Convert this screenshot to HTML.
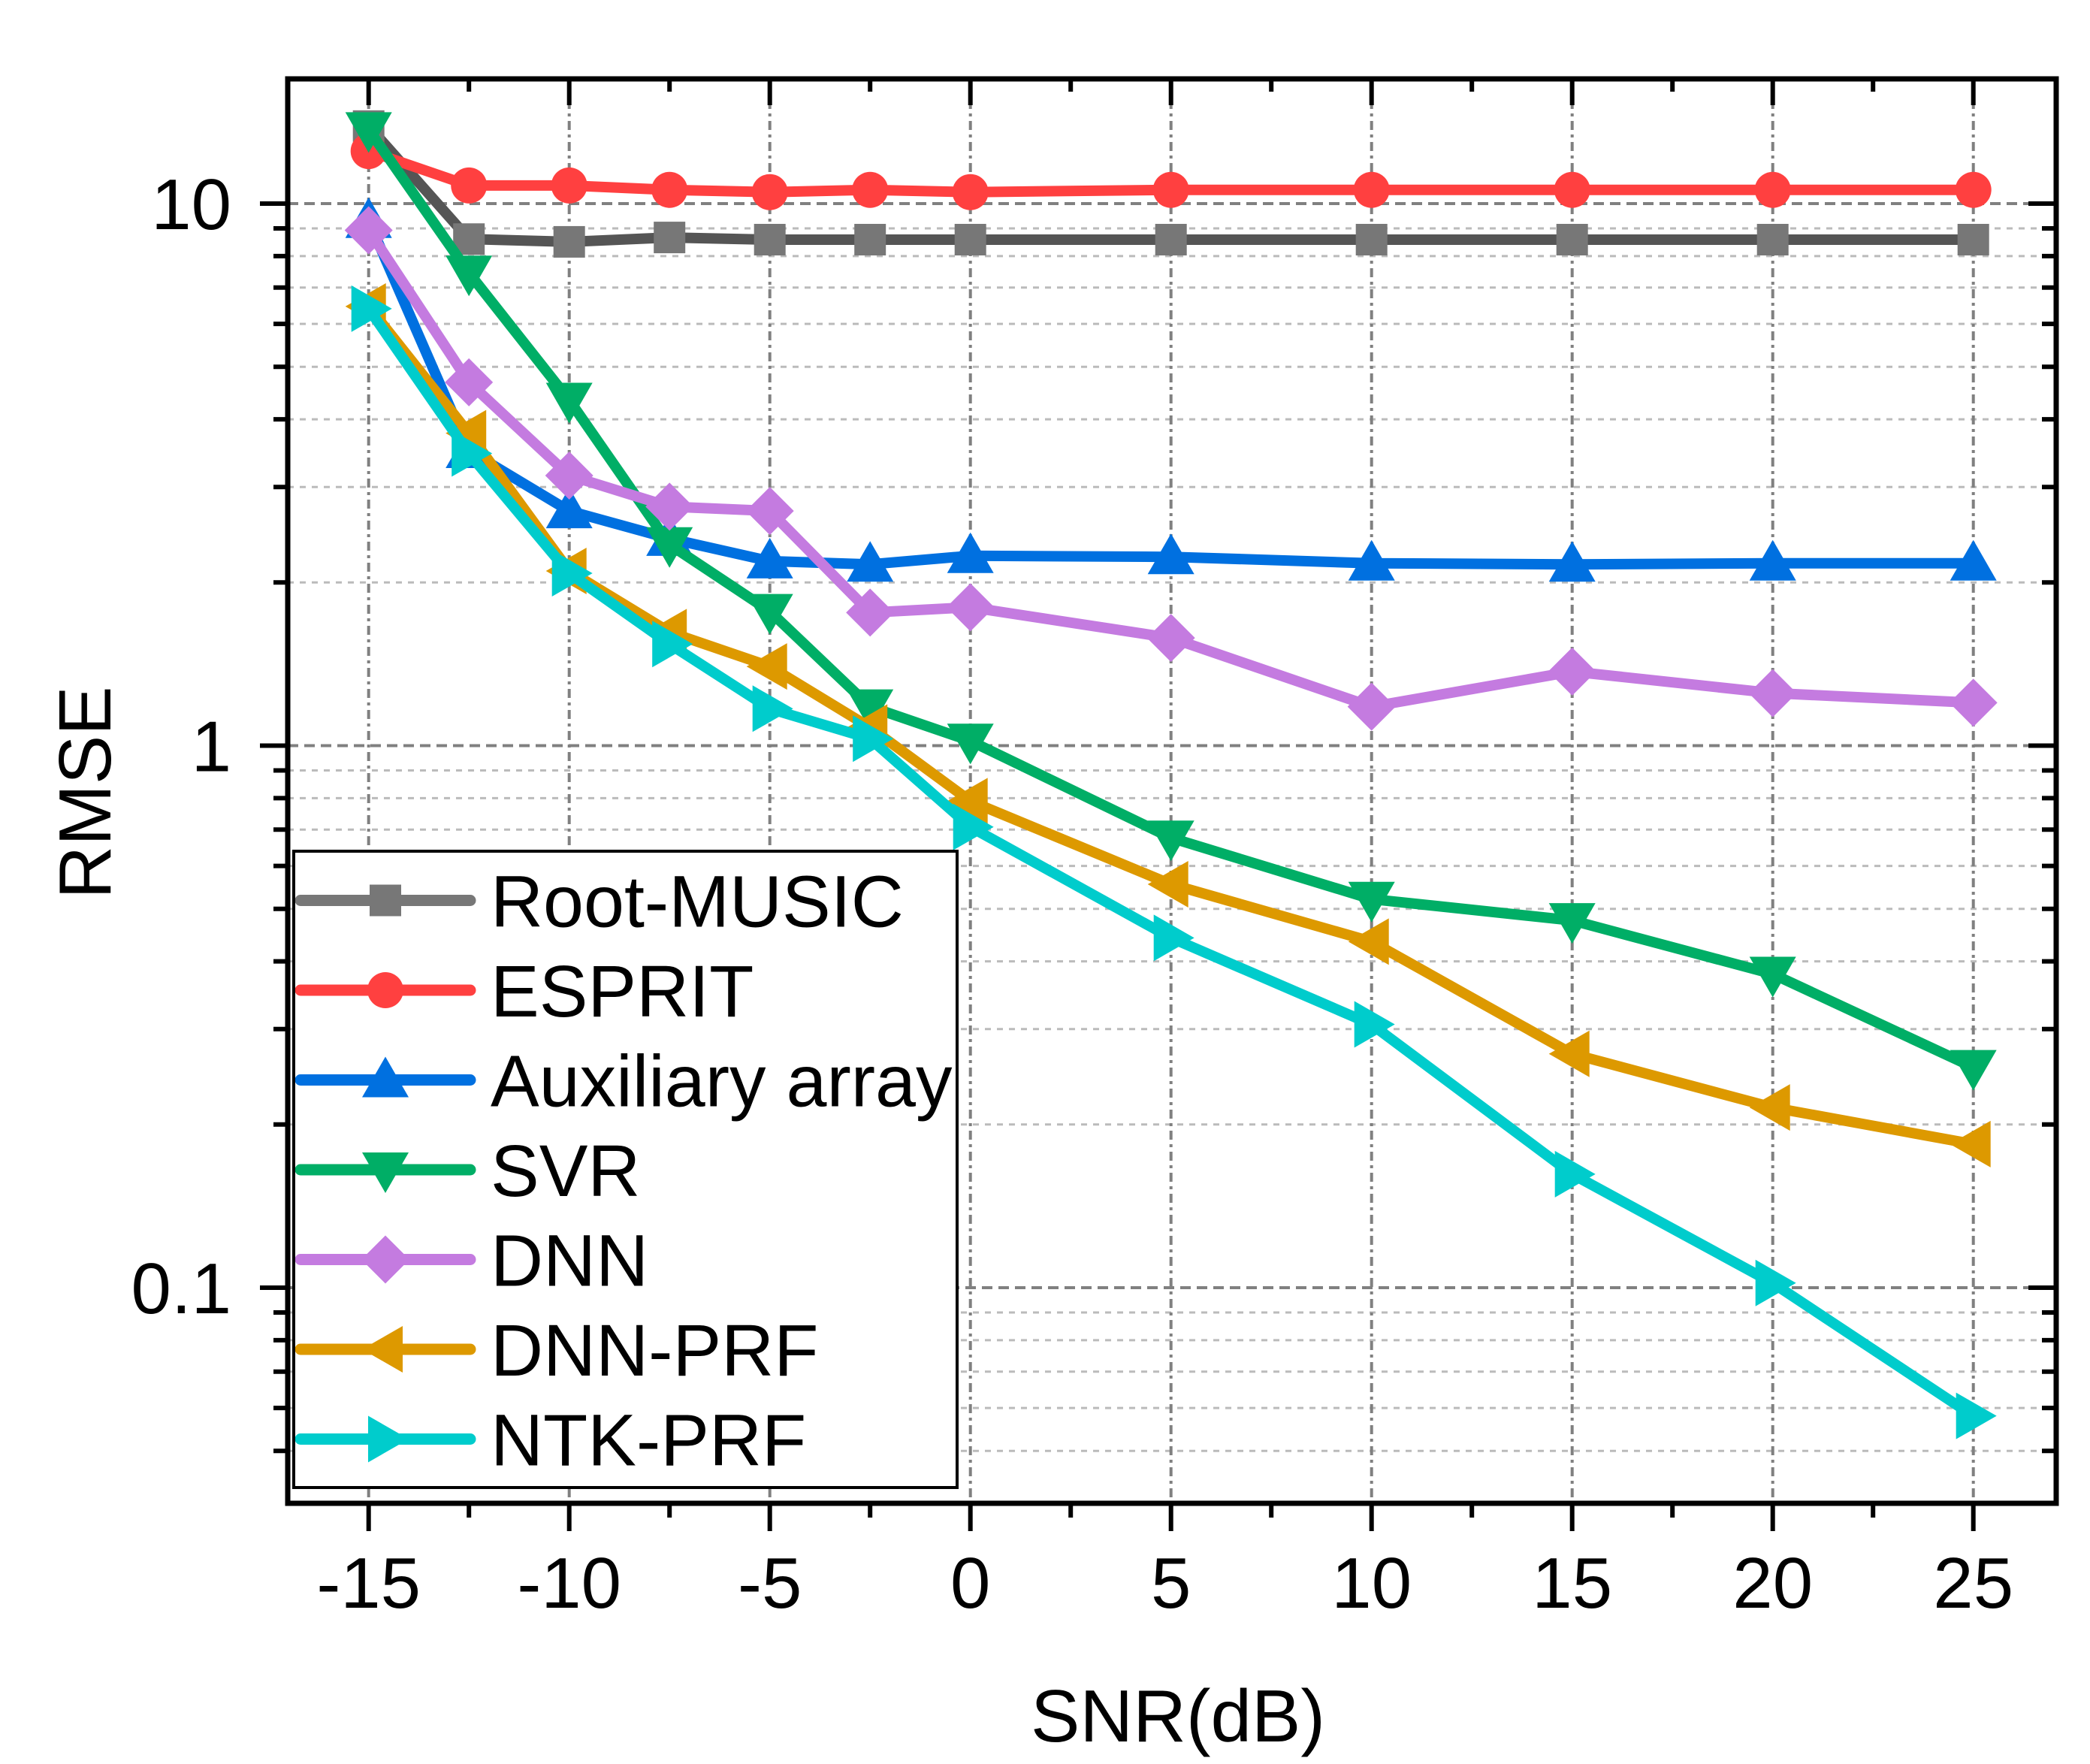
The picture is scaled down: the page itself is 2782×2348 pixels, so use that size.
<!DOCTYPE html>
<html><head><meta charset="utf-8"><style>
html,body{margin:0;padding:0;background:#fff;}
svg{display:block;font-family:"Liberation Sans",Arial,sans-serif;}
</style></head><body>
<svg id="chart" width="2782" height="2348" viewBox="0 0 2782 2348" xmlns="http://www.w3.org/2000/svg">
<rect x="0" y="0" width="2782" height="2348" fill="#fff"/>
<g id="grid"></g>
<g id="series"></g>
<g id="axes"></g>
<g id="legend"></g>
<text x="1568" y="2318" font-size="98" text-anchor="middle">SNR(dB)</text>
<text x="0" y="0" font-size="98" text-anchor="middle" transform="translate(147,1055) rotate(-90)">RMSE</text>
</svg>
<script>
const snr = [-15,-12.5,-10,-7.5,-5,-2.5,0,5,10,15,20,25];
const rootMusic = [13.9,8.6,8.5,8.66,8.58,8.58,8.58,8.58,8.58,8.58,8.58,8.58];
const esprit = [12.5,10.8,10.8,10.6,10.5,10.6,10.5,10.6,10.6,10.6,10.6,10.6];
const auxArray = [9.3,3.5,2.71,2.41,2.19,2.16,2.24,2.23,2.17,2.16,2.17,2.17];
const svr = [13.7,7.45,4.34,2.35,1.77,1.18,1.02,0.676,0.521,0.476,0.379,0.255];
const dnn = [8.93,4.68,3.15,2.76,2.71,1.76,1.80,1.58,1.18,1.37,1.25,1.20];
const dnnPrf = [6.46,3.77,2.10,1.62,1.40,1.08,0.79,0.555,0.435,0.27,0.215,0.184];
const ntkPrf = [6.4,3.46,2.08,1.54,1.17,1.03,0.708,0.442,0.306,0.162,0.102,0.058];
const xTicks = [-15,-10,-5,0,5,10,15,20,25];
const xTickLabels = ["-15","-10","-5","0","5","10","15","20","25"];
const yTicks = [0.1,1,10];
const yTickLabels = ["0.1","1","10"];
const seriesNames = ["Root-MUSIC","ESPRIT","Auxiliary array","SVR","DNN","DNN-PRF","NTK-PRF"];

const NS="http://www.w3.org/2000/svg";
const L=383,R=2737,T=105,B=2001;
const X=v=>1291.7+53.4*v;
const Y=v=>992.5-721.5*Math.log10(v);
function mk(tag,attrs,parent){const e=document.createElementNS(NS,tag);for(const k in attrs)e.setAttribute(k,attrs[k]);parent.appendChild(e);return e;}
const grid=document.getElementById('grid'),axes=document.getElementById('axes'),ser=document.getElementById('series'),leg=document.getElementById('legend');

for(let d=-2;d<=1;d++){for(let m=2;m<=9;m++){const v=m*Math.pow(10,d);const y=Y(v);if(y<T+4||y>B-4)continue;
 const g=mk('line',{x1:L,x2:R,y1:y,y2:y,stroke:'#bbb','stroke-width':3,'stroke-dasharray':'8 8'},grid);
 
 
 const t1=mk('line',{x1:L-19,x2:L,y1:y,y2:y,stroke:'#000','stroke-width':6},axes);
 
 
 const t2=mk('line',{x1:R-19,x2:R,y1:y,y2:y,stroke:'#000','stroke-width':6},axes);
 
 
}}
yTicks.forEach((v,i)=>{const y=Y(v);
 const g=mk('line',{x1:L,x2:R,y1:y,y2:y,stroke:'#808080','stroke-width':4,'stroke-dasharray':'14 8'},grid);
 
 
 const t=mk('line',{x1:L-37,x2:L,y1:y,y2:y,stroke:'#000','stroke-width':6},axes);
 
 
 const t2=mk('line',{x1:R-37,x2:R,y1:y,y2:y,stroke:'#000','stroke-width':6},axes);
 
 
 const lb=mk('text',{x:308,y:y+34,'font-size':96,'text-anchor':'end'},axes);lb.textContent=yTickLabels[i];
 
 
});
xTicks.forEach((v,i)=>{const x=X(v);
 const g=mk('line',{x1:x,x2:x,y1:T,y2:B,stroke:'#808080','stroke-width':4,'stroke-dasharray':'12 6 4 6'},grid);
 
 
 const t=mk('line',{x1:x,x2:x,y1:B,y2:B+37,stroke:'#000','stroke-width':6},axes);
 
 
 const t2=mk('line',{x1:x,x2:x,y1:T,y2:T+35,stroke:'#000','stroke-width':6},axes);
 
 
 const lb=mk('text',{x:x,y:2140,'font-size':96,'text-anchor':'middle'},axes);lb.textContent=xTickLabels[i];
 
 
 if(i<xTicks.length-1){const xm=X(v+2.5);
  const m1=mk('line',{x1:xm,x2:xm,y1:B,y2:B+19,stroke:'#000','stroke-width':6},axes);
  
  
  const m2=mk('line',{x1:xm,x2:xm,y1:T,y2:T+17,stroke:'#000','stroke-width':6},axes);
  
  
 }
});
const frame=mk('rect',{x:L,y:T,width:R-L,height:B-T,fill:'none',stroke:'#000','stroke-width':7},axes);



function marker(type,x,y,color,parent){
 const s=27;let e;
 if(type==='square')e=mk('rect',{x:x-21,y:y-21,width:42,height:42,fill:color},parent);
 else if(type==='circle')e=mk('circle',{cx:x,cy:y,r:24,fill:color},parent);
 else if(type==='up')e=mk('polygon',{points:`${x},${y-s-4} ${x-s-4},${y+s-4} ${x+s+4},${y+s-4}`,fill:color},parent);
 else if(type==='down')e=mk('polygon',{points:`${x},${y+s+4} ${x-s-4},${y-s+4} ${x+s+4},${y-s+4}`,fill:color},parent);
 else if(type==='diamond')e=mk('polygon',{points:`${x},${y-32} ${x+32},${y} ${x},${y+32} ${x-32},${y}`,fill:color},parent);
 else if(type==='left')e=mk('polygon',{points:`${x-s-4},${y} ${x+s-4},${y-s-4} ${x+s-4},${y+s+4}`,fill:color},parent);
 else e=mk('polygon',{points:`${x+s+4},${y} ${x-s+4},${y-s-4} ${x-s+4},${y+s+4}`,fill:color},parent);
 return e;
}
const defs=[
 [rootMusic,'#555555','#777777','square'],
 [esprit,'#FF4040','#FF4040','circle'],
 [auxArray,'#0070E0','#0070E0','up'],
 [svr,'#00AE66','#00AE66','down'],
 [dnn,'#C47BE0','#C47BE0','diamond'],
 [dnnPrf,'#DD9900','#DD9900','left'],
 [ntkPrf,'#00CCCC','#00CCCC','right']];
defs.forEach((d,si)=>{
 const g=mk('g',{},ser);
 
 
 const pts=snr.map((v,i)=>X(v)+','+Y(d[0][i])).join(' ');
 const pl=mk('polyline',{points:pts,fill:'none',stroke:d[1],'stroke-width':14,'stroke-linejoin':'round'},g);
 
 
 snr.forEach((v,i)=>{const m=marker(d[3],X(v),Y(d[0][i]),d[2],g);
  
  
 });
 const ly=1198.5+si*119.5;
 const lg=mk('g',{},leg);
 
 
 mk('line',{x1:400,x2:626,y1:ly,y2:ly,stroke:d[1]==='#555555'?'#777777':d[1],'stroke-width':15,'stroke-linecap':'round'},lg);
 marker(d[3],513,ly,d[2],lg);
 const tx=mk('text',{x:653,y:ly+35,'font-size':97},lg);tx.textContent=seriesNames[si];
});
const lb=mk('rect',{x:391,y:1133,width:883,height:847,fill:'none',stroke:'#000','stroke-width':4},leg);


leg.insertBefore(mk('rect',{x:391,y:1133,width:883,height:847,fill:'#fff'},leg),leg.firstChild);
</script>
</body></html>
